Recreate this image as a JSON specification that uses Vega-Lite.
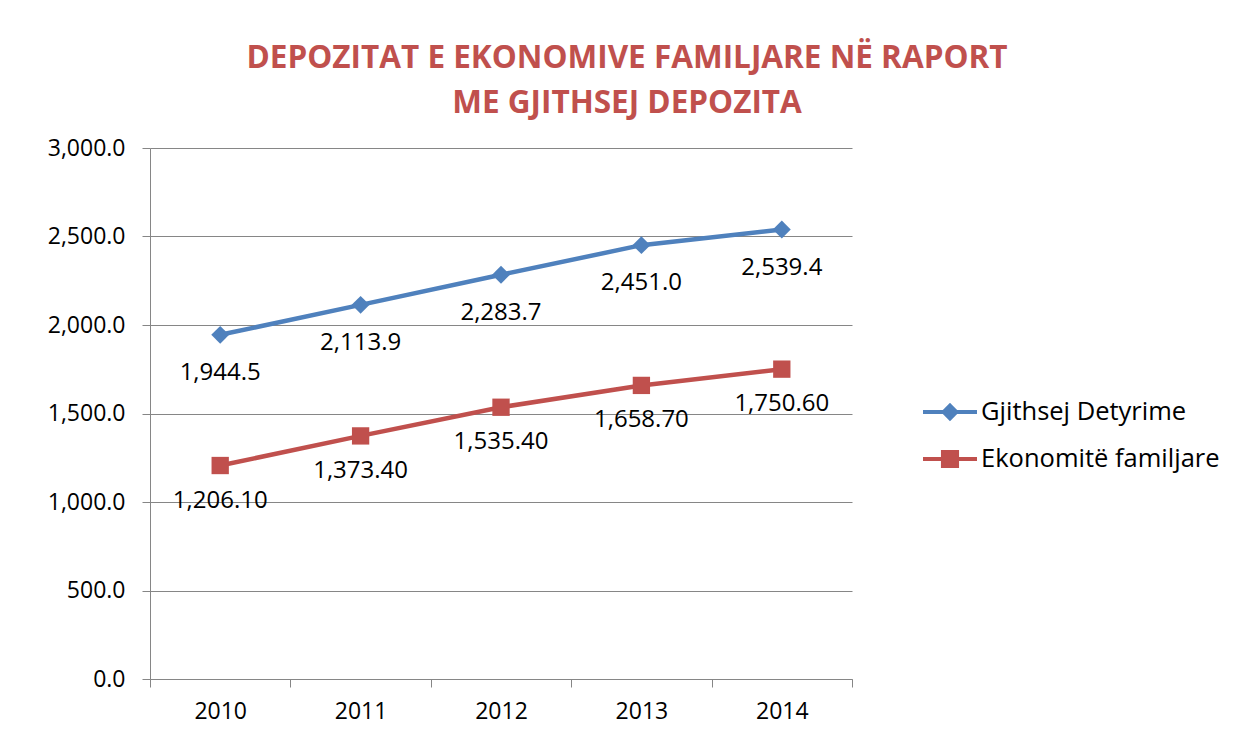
{
  "$schema": "https://vega.github.io/schema/vega-lite/v6.json",
  "width": 702,
  "height": 531,
  "autosize": {"type": "none"},
  "padding": {"left": 150, "top": 148, "right": 384, "bottom": 61},
  "background": "white",
  "config": {"view": {"stroke": null}, "font": "Open Sans"},
  "title": {
    "text": ["DEPOZITAT E EKONOMIVE FAMILJARE NË RAPORT", "ME GJITHSEJ DEPOZITA"],
    "color": "#C0504D",
    "font": "Open Sans",
    "fontWeight": "bold",
    "fontSize": 31.5,
    "lineHeight": 45,
    "anchor": "middle",
    "dx": 126,
    "offset": 18
  },
  "data": {
    "values": [
      {"year": "2010", "series": "Gjithsej Detyrime", "value": 1944.5},
      {"year": "2011", "series": "Gjithsej Detyrime", "value": 2113.9},
      {"year": "2012", "series": "Gjithsej Detyrime", "value": 2283.7},
      {"year": "2013", "series": "Gjithsej Detyrime", "value": 2451.0},
      {"year": "2014", "series": "Gjithsej Detyrime", "value": 2539.4},
      {"year": "2010", "series": "Ekonomitë familjare", "value": 1206.1},
      {"year": "2011", "series": "Ekonomitë familjare", "value": 1373.4},
      {"year": "2012", "series": "Ekonomitë familjare", "value": 1535.4},
      {"year": "2013", "series": "Ekonomitë familjare", "value": 1658.7},
      {"year": "2014", "series": "Ekonomitë familjare", "value": 1750.6}
    ]
  },
  "encoding": {
    "x": {
      "field": "year",
      "type": "ordinal",
      "scale": {"type": "band", "paddingInner": 0, "paddingOuter": 0},
      "axis": {
        "title": null,
        "labelAngle": 0,
        "grid": false,
        "tickBand": "extent",
        "domainColor": "#868686",
        "tickColor": "#868686",
        "tickSize": 8,
        "labelFontSize": 23,
        "labelColor": "black",
        "labelPadding": 13
      }
    },
    "y": {
      "field": "value",
      "type": "quantitative",
      "scale": {"domain": [0, 3000]},
      "axis": {
        "title": null,
        "values": [0, 500, 1000, 1500, 2000, 2500, 3000],
        "format": ",.1f",
        "grid": true,
        "gridColor": "#868686",
        "domainColor": "#868686",
        "tickColor": "#868686",
        "tickSize": 8,
        "labelFontSize": 23,
        "labelColor": "black",
        "labelPadding": 17
      }
    }
  },
  "layer": [
    {
      "mark": {"type": "line", "strokeWidth": 4.5},
      "encoding": {
        "color": {
          "field": "series",
          "type": "nominal",
          "scale": {"domain": ["Gjithsej Detyrime", "Ekonomitë familjare"], "range": ["#4F81BD", "#C0504D"]},
          "legend": {
            "orient": "none",
            "legendX": 783,
            "legendY": 247,
            "title": null,
            "labelFontSize": 25.5,
            "labelColor": "black",
            "labelLimit": 400,
            "symbolSize": 900,
            "labelOffset": 14,
            "rowPadding": 15,
            "encode": {
              "symbols": {
                "update": {
                  "shape": {"signal": "datum.value === 'Gjithsej Detyrime' ? 'M-1.8,0H1.8M0,-0.42L0.42,0L0,0.42L-0.42,0Z' : 'M-1.8,0H1.8M-0.47,-0.47H0.47V0.47H-0.47Z'"},
                  "size": {"value": 900},
                  "stroke": {"scale": "color", "field": "value"},
                  "fill": {"scale": "color", "field": "value"},
                  "strokeWidth": {"value": 4},
                  "opacity": {"value": 1},
                  "fillOpacity": {"value": 1},
                  "strokeOpacity": {"value": 1}
                }
              }
            }
          }
        }
      }
    },
    {
      "transform": [{"filter": "datum.series === 'Gjithsej Detyrime'"}],
      "mark": {"type": "point", "filled": true, "opacity": 1, "shape": "diamond", "size": 320},
      "encoding": {"color": {"field": "series", "type": "nominal"}}
    },
    {
      "transform": [{"filter": "datum.series === 'Ekonomitë familjare'"}],
      "mark": {"type": "point", "filled": true, "opacity": 1, "shape": "square", "size": 300},
      "encoding": {"color": {"field": "series", "type": "nominal"}}
    },
    {
      "transform": [{"filter": "datum.series === 'Gjithsej Detyrime'"}],
      "mark": {"type": "text", "dy": 38, "fontSize": 24, "color": "black"},
      "encoding": {"text": {"field": "value", "type": "quantitative", "format": ",.1f"}}
    },
    {
      "transform": [{"filter": "datum.series === 'Ekonomitë familjare'"}],
      "mark": {"type": "text", "dy": 35, "fontSize": 24, "color": "black"},
      "encoding": {"text": {"field": "value", "type": "quantitative", "format": ",.2f"}}
    }
  ]
}
